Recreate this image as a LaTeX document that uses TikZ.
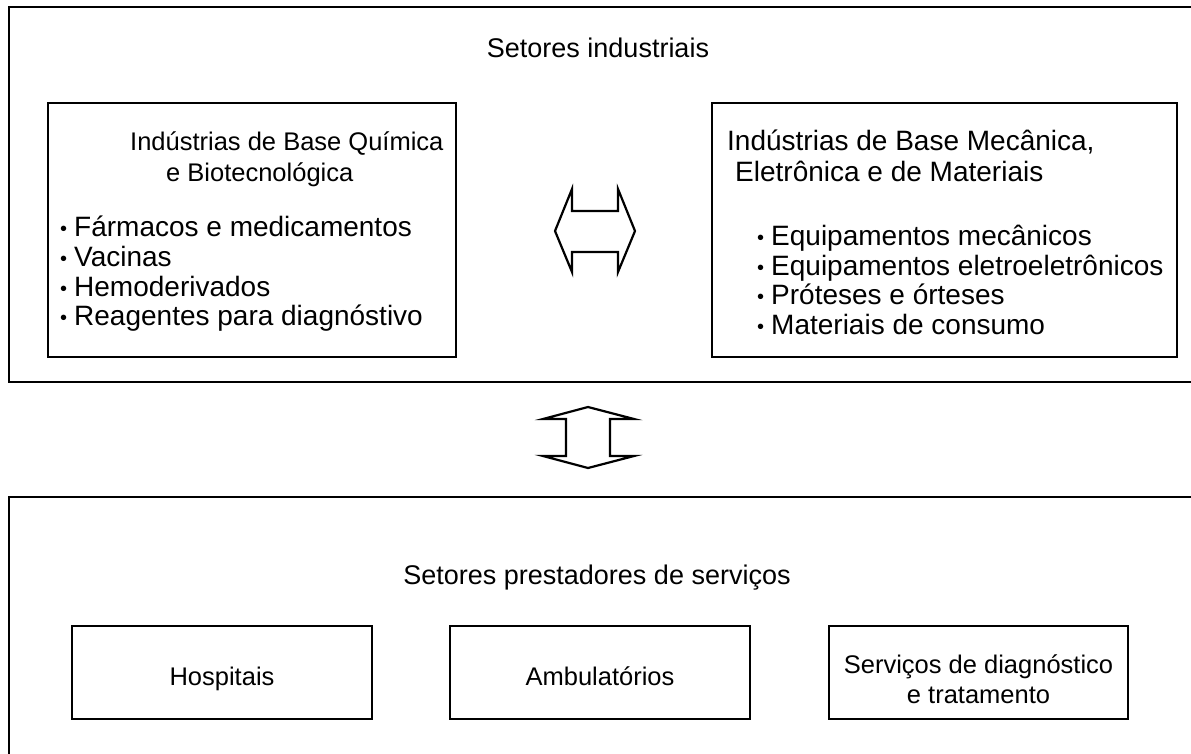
\documentclass[tikz,border=0pt]{standalone}
\usepackage{fontspec}
\setmainfont{Liberation Sans}
\begin{document}
\begin{tikzpicture}[x=1pt,y=-1pt,
  frame/.style={draw=black,line width=2.2pt},
  box/.style={draw=black,line width=2pt,inner sep=0pt},
  txt/.style={inner sep=0pt,font=\fontsize{25.5}{30}\selectfont},
  hd/.style={inner sep=0pt,anchor=base west},
  lst/.style={inner sep=0pt,font=\fontsize{28}{29.7}\selectfont,align=left,anchor=west},
  ttl/.style={inner sep=0pt,font=\fontsize{27}{30}\selectfont},
  arr/.style={draw=black,line width=2.2pt,line join=miter,fill=white}]
\newcommand{\bul}{{\fontsize{20}{20}\selectfont\raisebox{1pt}{•}}\hspace{7pt}}
\useasboundingbox (0,0) rectangle (1191,753);
\clip (0,0) rectangle (1191,753);
% outer frames
\draw[frame] (1250,7) -- (9,7) -- (9,382) -- (1250,382);
\draw[frame] (1250,497) -- (9,497) -- (9,800);
\node[ttl] (t1) at (598,48) {Setores industriais};
\node[ttl] (t2) at (597,578) {Setores prestadores de servi\c{c}os};
% upper inner boxes
\node[box,minimum width=408pt,minimum height=254pt] (qb) at (252,230) {};
\node[box,minimum width=465pt,minimum height=254pt] (mb) at (944.5,230) {};
\node[hd,font=\fontsize{25.5}{31}\selectfont] (qh1) at (130,150) {Ind\'ustrias de Base Qu\'imica};
\node[hd,font=\fontsize{25.5}{31}\selectfont] (qh2) at (166,181) {e Biotecnol\'ogica};
\node[hd,font=\fontsize{28}{31}\selectfont] (mh1) at (727,150) {Ind\'ustrias de Base Mec\^anica,};
\node[hd,font=\fontsize{28}{31}\selectfont] (mh2) at (735,181) {Eletr\^onica e de Materiais};
\node[lst] (ql) at (60,274) {\bul F\'armacos e medicamentos\\\bul Vacinas\\\bul Hemoderivados\\\bul Reagentes para diagn\'ostivo};
\node[lst] (ml) at (757,280) {\bul Equipamentos mec\^anicos\\\bul Equipamentos eletroeletr\^onicos\\\bul Pr\'oteses e \'orteses\\\bul Materiais de consumo};
% horizontal double arrow
\coordinate (ha) at (595.5,231);
\draw[arr] (555,231) -- (572,189) -- (572,211) -- (618,211) -- (618,189) -- (635,231)
  -- (618,272) -- (618,252) -- (572,252) -- (572,272) -- cycle;
% vertical double arrow
\coordinate (va) at (588,437);
\draw[arr] (588,407) -- (634,419) -- (610,419) -- (610,456) -- (634,456) -- (588,468)
  -- (543,456) -- (566,456) -- (566,419) -- (543,419) -- cycle;
% lower inner boxes
\node[box,minimum width=300pt,minimum height=93pt] (h) at (222,672.5) {};
\node[box,minimum width=300pt,minimum height=93pt] (a) at (600,672.5) {};
\node[box,minimum width=299pt,minimum height=93pt] (s) at (978.5,672.5) {};
\node[txt,anchor=base] (ht) at (222,685) {Hospitais};
\node[txt,anchor=base] (at) at (600,685) {Ambulat\'orios};
\node[txt,align=center] (st) at (978.5,679) {Servi\c{c}os de diagn\'ostico\\e tratamento};
\end{tikzpicture}
\end{document}
